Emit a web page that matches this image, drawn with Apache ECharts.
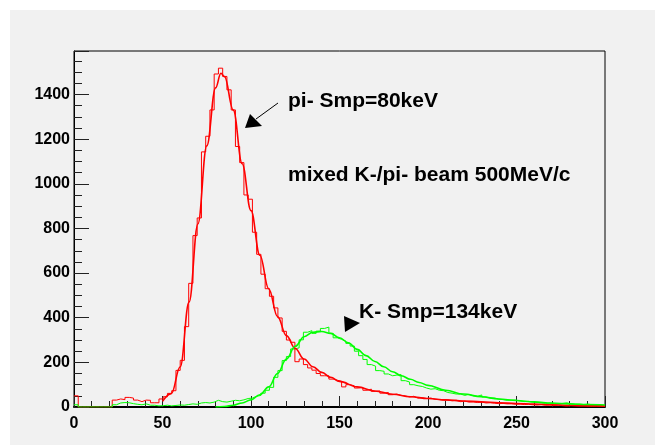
<!DOCTYPE html>
<html><head><meta charset="utf-8">
<script src="https://cdn.jsdelivr.net/npm/echarts@6/dist/echarts.min.js"></script>
<style>html,body{margin:0;padding:0;background:#fff}#c{width:655px;height:446px}</style>
</head><body><div id="c"></div>
<script>
// histogram binning (125 bins over 0..300)
const binWidth = 2.4;
const piCounts = [
 50,0,0,0,0,0,0,0,0,31,
 36,33,43,40,31,24,31,30,19,19,
 36,46,61,73,164,209,360,554,768,847,
 1143,1213,1331,1492,1518,1481,1421,1331,1167,1095,
 950,931,783,684,595,530,496,444,399,339,
 300,290,203,215,190,175,165,150,140,140,
 125,120,115,90,100,95,85,88,75,80,
 70,72,62,65,55,58,52,50,45,48,
 40,42,38,40,35,33,30,32,28,30,
 24,26,22,23,20,22,18,19,17,15,
 16,14,15,12,13,11,12,10,9,11,
 8,9,7,8,6,4,6,5,4,5,
 4,3,4,3,2
];
const kCounts = [
 10,0,0,0,0,0,0,0,0,10,
 18,20,19,15,12,10,14,8,8,5,
 6,8,5,7,9,8,11,14,12,18,
 20,18,22,30,24,22,26,30,28,32,
 38,40,48,52,62,75,88,133,163,208,
 226,260,265,301,335,342,330,340,352,358,
 330,310,303,295,285,273,250,230,213,190,
 183,163,160,148,140,143,145,118,112,100,
 95,92,85,80,82,75,73,65,62,58,
 58,52,57,50,48,54,45,40,40,35,
 33,30,31,31,27,24,25,22,20,18,
 16,17,15,14,16,19,14,12,13,11,
 13,10,9,8,7
];
// fitted curves
const piFitX = [50,55,60,65,70,75,80,83,85,90,95,100,105,110,115,120,125,130,135,140,145,150,160,170,180,190,200,210,220,230,240,250,260,270,280,290,300];
const piFitY = [25,60,180,470,820,1170,1430,1495,1480,1330,1090,880,680,530,405,320,262,215,180,155,133,115,90,72,57,46,38,32,27,23,19,16,13,10,8,6,5];
const kFitX = [80,85,90,95,100,105,110,115,120,125,130,135,140,145,150,155,160,165,170,175,180,185,190,195,200,210,220,230,240,250,260,270,280,290,300];
const kFitY = [0,2,8,18,32,55,90,150,215,272,315,335,338,330,310,288,258,230,204,180,158,140,124,110,97,75,58,46,36,29,23,18,14,11,9];
const xTicks = {min:0, max:300, interval:50};
const yTicks = {min:0, max:1595, interval:200};
const labels = {
  pi: 'pi- Smp=80keV',
  beam: 'mixed K-/pi- beam 500MeV/c',
  k: 'K- Smp=134keV'
};

function histData(counts){
  const d = counts.map((c,i)=>[i*binWidth, c]);
  d.push([counts.length*binWidth, counts[counts.length-1]]);
  return d;
}
function curveData(xs, ys){ return xs.map((x,i)=>[x, ys[i]]); }

const FONT = 'Liberation Sans, Arial, Helvetica, sans-serif';
const chart = echarts.init(document.getElementById('c'), null, {renderer:'canvas'});
const txt = (x,y,s)=>({type:'text', x:x, y:y, style:{text:s, font:'bold 21px '+FONT, fill:'#000', verticalAlign:'middle', align:'left'}, z:10});
chart.setOption({
  animation:false,
  backgroundColor:'#ffffff',
  graphic:[
    {type:'rect', shape:{x:10, y:10, width:645, height:435}, style:{fill:'#f1f1f1'}, z:-10},
    txt(288, 101, labels.pi),
    txt(288, 175, labels.beam),
    txt(359, 312, labels.k),
    {type:'line', shape:{x1:278, y1:103, x2:256, y2:119}, style:{stroke:'#000', lineWidth:1}, z:10},
    {type:'polygon', shape:{points:[[245,128],[250,114],[262,126]]}, style:{fill:'#000'}, z:10},
    {type:'polygon', shape:{points:[[344,316],[345,332],[360,323]]}, style:{fill:'#000'}, z:10}
  ],
  grid:{left:74, top:51, width:531, height:356, show:true, borderColor:'#000', borderWidth:1, backgroundColor:'transparent'},
  xAxis:{type:'value', min:xTicks.min, max:xTicks.max, interval:xTicks.interval,
    axisLine:{show:true, onZero:false, lineStyle:{color:'#000', width:2}},
    axisTick:{show:true, inside:true, length:11, lineStyle:{color:'#222', width:1}},
    minorTick:{show:true, splitNumber:5, length:6, lineStyle:{color:'#222', width:1}},
    splitLine:{show:false},
    axisLabel:{color:'#000', fontWeight:'bold', fontSize:16, fontFamily:FONT, margin:9, formatter:(v)=>String(v)}
  },
  yAxis:{type:'value', min:yTicks.min, max:yTicks.max, interval:yTicks.interval,
    axisLine:{show:true, onZero:false, lineStyle:{color:'#000', width:1}},
    axisTick:{show:true, inside:true, length:15, lineStyle:{color:'#222', width:1}},
    minorTick:{show:true, splitNumber:4, length:8, lineStyle:{color:'#222', width:1}},
    splitLine:{show:false},
    axisLabel:{color:'#000', fontWeight:'bold', fontSize:16, fontFamily:FONT, margin:4, showMaxLabel:false, formatter:(v)=>String(v)}
  },
  series:[
    {type:'line', step:'end', data:histData(piCounts), symbol:'none', lineStyle:{color:'#ff0000', width:1}, z:3},
    {type:'line', step:'end', data:histData(kCounts), symbol:'none', lineStyle:{color:'#00ff00', width:1}, z:3},
    {type:'line', smooth:0.4, smoothMonotone:'x', data:curveData(piFitX, piFitY), symbol:'none', lineStyle:{color:'#ff0000', width:1.6}, z:4},
    {type:'line', smooth:0.4, smoothMonotone:'x', data:curveData(kFitX, kFitY), symbol:'none', lineStyle:{color:'#00ff00', width:1.6}, z:4}
  ]
});
</script></body></html>
